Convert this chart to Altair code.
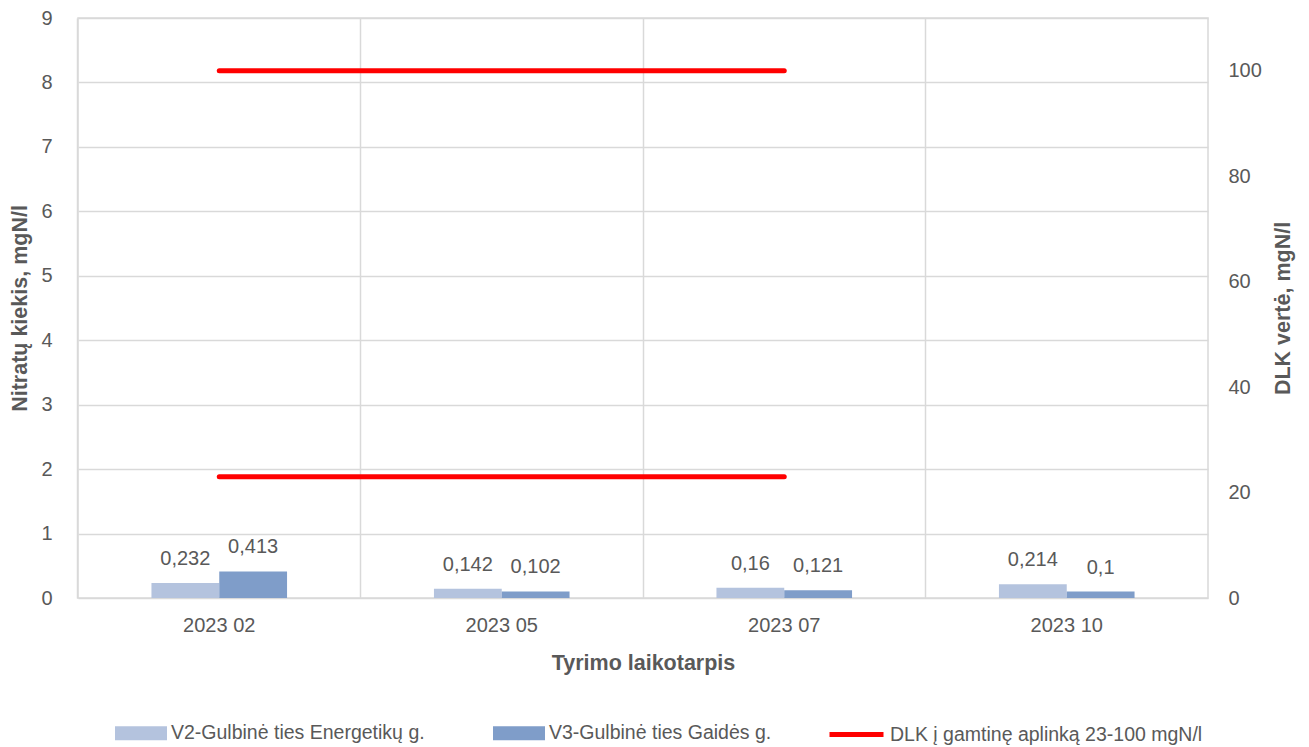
import altair as alt
import pandas as pd

categories = ["2023 02", "2023 05", "2023 07", "2023 10"]
series = ["V2-Gulbinė ties Energetikų g.", "V3-Gulbinė ties Gaidės g."]
v2_values = [0.232, 0.142, 0.16, 0.214]
v3_values = [0.413, 0.102, 0.121, 0.1]

dlk_name = "DLK į gamtinę aplinką 23-100 mgN/l"
dlk_categories = ["2023 02", "2023 05", "2023 07"]
dlk_low = [23, 23, 23]
dlk_high = [100, 100, 100]

bar_colors = ["#b4c3de", "#7f9dc9"]
red = "#ff0000"
grid = "#d9d9d9"
txt = "#595959"
FONT = "Liberation Sans, Arial, sans-serif"

rows = []
for c, a, b in zip(categories, v2_values, v3_values):
    rows.append({"cat": c, "series": series[0], "value": a})
    rows.append({"cat": c, "series": series[1], "value": b})
bar_df = pd.DataFrame(rows)

drows = []
for c, lo, hi in zip(dlk_categories, dlk_low, dlk_high):
    drows.append({"cat": c, "level": "low", "val": lo, "name": dlk_name})
    drows.append({"cat": c, "level": "high", "val": hi, "name": dlk_name})
dlk_df = pd.DataFrame(drows)

xscale = alt.Scale(domain=categories, paddingInner=0.52, paddingOuter=0.26)
xaxis = alt.Axis(title="Tyrimo laikotarpis", labelAngle=0, grid=False, ticks=False,
                 domain=False, labelPadding=17, titlePadding=17,
                 labelFontSize=20, titleFontSize=21.5, titleFontWeight="bold")
yaxis = alt.Axis(title="Nitratų kiekis, mgN/l", values=list(range(10)), format="d",
                 grid=True, gridColor=grid, gridWidth=1.5, ticks=False, domain=False,
                 labelPadding=26, titlePadding=9, labelFontSize=20, titleFontSize=21.5,
                 titleFontWeight="bold")
xoff = alt.XOffset("series:N", sort=series,
                   scale=alt.Scale(domain=series, paddingInner=0, paddingOuter=0))

bars = alt.Chart(bar_df).mark_bar().encode(
    x=alt.X("cat:N", scale=xscale, sort=categories, axis=xaxis),
    xOffset=xoff,
    y=alt.Y("value:Q", scale=alt.Scale(domain=[0, 9], nice=False), axis=yaxis),
    fill=alt.Fill("series:N", sort=series,
                  scale=alt.Scale(domain=series, range=bar_colors),
                  legend=alt.Legend(title=None, orient="none", direction="horizontal",
                                    legendX=37, legendY=689, padding=0,
                                    symbolType="M-1,-0.27H1V0.27H-1Z", symbolSize=2704,
                                    symbolStrokeWidth=0, labelOffset=4, columnPadding=68,
                                    labelLimit=500,
                                    labelFontSize=19.5, labelColor=txt, labelFont=FONT)),
)

labels = alt.Chart(bar_df).transform_calculate(
    lab="replace(format(datum.value, ''), '.', ',')"
).mark_text(baseline="bottom", dy=-14, fontSize=20, color=txt, font=FONT).encode(
    x=alt.X("cat:N", scale=xscale, sort=categories, axis=xaxis),
    xOffset=xoff,
    y=alt.Y("value:Q", axis=yaxis),
    text="lab:N",
)

line = alt.Chart(dlk_df).mark_line(strokeWidth=5, strokeCap="round").encode(
    x=alt.X("cat:N", sort=categories,
            axis=alt.Axis(title=None, labels=False, ticks=False, domain=False, grid=True,
                          gridColor=grid, gridWidth=1.5, bandPosition=-0.26 / 0.48, orient="bottom")),
    y=alt.Y("val:Q", scale=alt.Scale(domain=[0, 110], nice=False),
            axis=alt.Axis(title="DLK vertė, mgN/l", orient="right", values=[0, 20, 40, 60, 80, 100],
                          grid=False, ticks=False, domain=False, labelPadding=20, titlePadding=11,
                          titleAngle=-90, titleBaseline="top",
                          labelFontSize=20, titleFontSize=21.5, titleFontWeight="bold")),
    detail="level:N",
    stroke=alt.Stroke("name:N", scale=alt.Scale(domain=[dlk_name], range=[red]),
                      legend=alt.Legend(title=None, orient="none", legendX=749, legendY=687, padding=0,
                                        symbolType="stroke", symbolSize=2916, symbolStrokeWidth=5,
                                        labelOffset=4, labelLimit=500,
                                        labelFontSize=19.5, labelColor=txt, labelFont=FONT)),
)

chart = alt.layer(alt.layer(bars, labels), line).resolve_scale(
    y="independent", stroke="independent", fill="independent"
).resolve_axis(x="independent").properties(
    width=1130, height=580,
    autosize=alt.AutoSizeParams(type="none"),
    padding={"left": 70, "top": 10, "right": 92, "bottom": 149},
).configure_view(
    stroke=grid, strokeWidth=1.5
).configure_axis(
    labelFont=FONT, titleFont=FONT, labelColor=txt, titleColor=txt
).configure_legend(
    labelFont=FONT
)

chart.save("out.html", embed_options={"renderer": "svg", "actions": False})
